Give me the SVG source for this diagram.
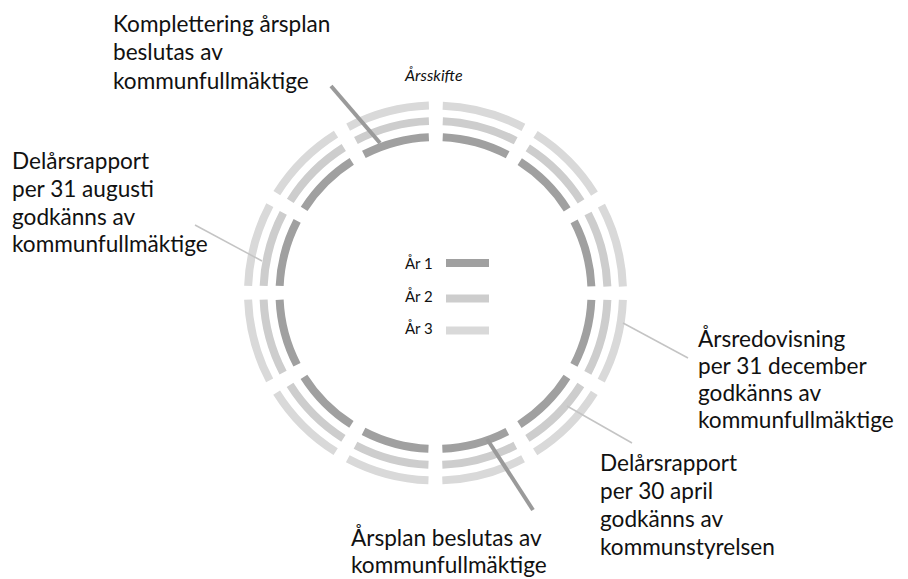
<svg xmlns="http://www.w3.org/2000/svg" width="908" height="579" viewBox="0 0 908 579">
<style>
  .lbl{font-family:Lato,"Liberation Sans",sans-serif;font-size:22.6px;fill:#111111}
  .leg{font-family:Lato,"Liberation Sans",sans-serif;font-size:15px;fill:#111111}
  .ital{font-family:Lato,"Liberation Sans",sans-serif;font-size:16px;font-style:italic;fill:#111111}
  .y1{fill:none;stroke:#a0a0a0;stroke-width:8}
  .y2{fill:none;stroke:#cdcdcd;stroke-width:8}
  .y3{fill:none;stroke:#d9d9d9;stroke-width:8}
  .ld{fill:none;stroke:#9a9a9a;stroke-width:4}
  .ll{fill:none;stroke:#c4c4c4;stroke-width:1.5}
</style>
<rect width="908" height="579" fill="#ffffff"/>
<g id="rings">
  <circle id="ring-ar1" class="y1" cx="435.5" cy="293" r="156" stroke-dasharray="67.68 14" stroke-dashoffset="74.68"/>
  <circle id="ring-ar2" class="y2" cx="435.5" cy="293" r="172" stroke-dasharray="76.06 14" stroke-dashoffset="83.06"/>
  <circle id="ring-ar3" class="y3" cx="435.5" cy="293" r="187.5" stroke-dasharray="84.17 14" stroke-dashoffset="91.17"/>
</g>
<g id="legend">
  <text class="leg" x="405" y="269">År 1</text>
  <line class="y1" x1="446" y1="263" x2="489" y2="263" stroke-width="6"/>
  <text class="leg" x="405" y="302">År 2</text>
  <line class="y2" x1="446" y1="298.5" x2="489" y2="298.5" stroke-width="5"/>
  <text class="leg" x="405" y="334">År 3</text>
  <line class="y3" x1="446" y1="330.5" x2="489" y2="330.5" stroke-width="5"/>
</g>
<g id="connectors">
  <line class="ld" x1="331" y1="86" x2="380" y2="143"/>
  <line class="ll" x1="195" y1="225" x2="262" y2="261"/>
  <line class="ll" x1="623" y1="323" x2="688" y2="358"/>
  <line class="ll" x1="567" y1="406" x2="632" y2="443"/>
  <line class="ld" x1="487" y1="439" x2="533" y2="510"/>
</g>
<g id="label-arsskifte">
  <text class="ital" x="405" y="81">Årsskifte</text>
</g>
<g id="label-komplettering">
  <text class="lbl" x="113" y="32">Komplettering årsplan</text>
  <text class="lbl" x="113" y="60">beslutas av</text>
  <text class="lbl" x="113" y="89">kommunfullmäktige</text>
</g>
<g id="label-delars-aug">
  <text class="lbl" x="12" y="169">Delårsrapport</text>
  <text class="lbl" x="12" y="197">per 31 augusti</text>
  <text class="lbl" x="12" y="225">godkänns av</text>
  <text class="lbl" x="12" y="252">kommunfullmäktige</text>
</g>
<g id="label-arsredovisning">
  <text class="lbl" x="698" y="347">Årsredovisning</text>
  <text class="lbl" x="698" y="374">per 31 december</text>
  <text class="lbl" x="698" y="401">godkänns av</text>
  <text class="lbl" x="698" y="428">kommunfullmäktige</text>
</g>
<g id="label-delars-apr">
  <text class="lbl" x="600" y="471">Delårsrapport</text>
  <text class="lbl" x="600" y="499">per 30 april</text>
  <text class="lbl" x="600" y="527">godkänns av</text>
  <text class="lbl" x="600" y="555">kommunstyrelsen</text>
</g>
<g id="label-arsplan">
  <text class="lbl" x="351" y="546">Årsplan beslutas av</text>
  <text class="lbl" x="351" y="573">kommunfullmäktige</text>
</g>
</svg>
